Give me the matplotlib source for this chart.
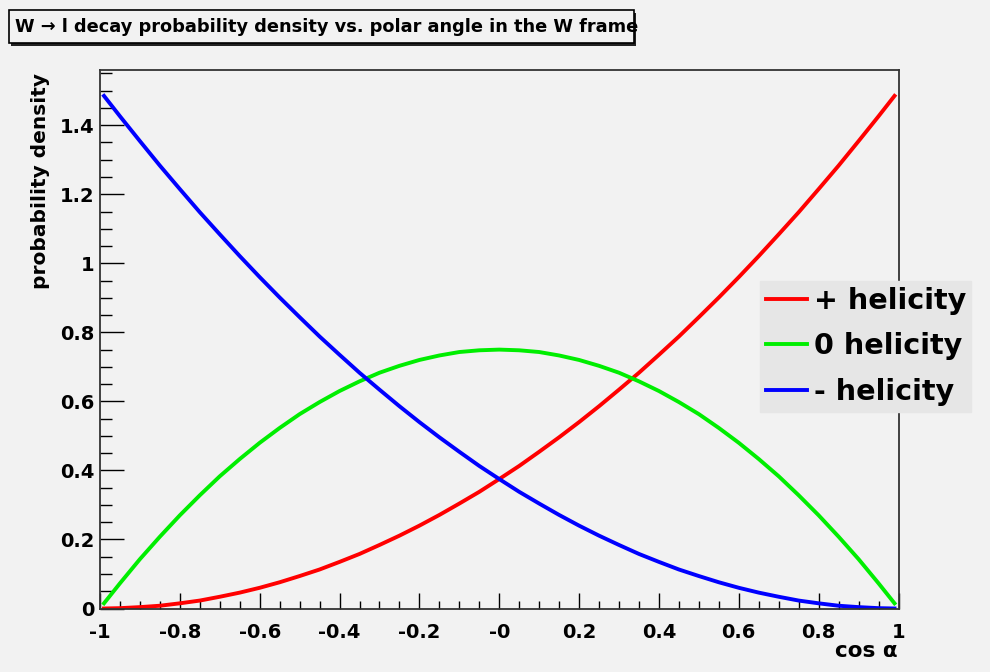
import matplotlib
matplotlib.use('Agg')
import matplotlib.pyplot as plt
from matplotlib.ticker import MultipleLocator
from matplotlib.patches import Rectangle

plt.rcParams['font.family'] = ['DejaVu Sans']
plt.rcParams['font.weight'] = 'bold'

# values
cos_a = [-0.99, -0.95, -0.9, -0.85, -0.8, -0.75, -0.7, -0.65, -0.6, -0.55, -0.5,
         -0.45, -0.4, -0.35, -0.3, -0.25, -0.2, -0.15, -0.1, -0.05, 0.0,
         0.05, 0.1, 0.15, 0.2, 0.25, 0.3, 0.35, 0.4, 0.45, 0.5,
         0.55, 0.6, 0.65, 0.7, 0.75, 0.8, 0.85, 0.9, 0.95, 0.99]
plus_hel = [0.000, 0.001, 0.004, 0.008, 0.015, 0.023, 0.034, 0.046, 0.060, 0.076, 0.094,
            0.113, 0.135, 0.158, 0.184, 0.211, 0.240, 0.271, 0.304, 0.338, 0.375,
            0.413, 0.454, 0.496, 0.540, 0.586, 0.634, 0.683, 0.735, 0.788, 0.844,
            0.901, 0.960, 1.021, 1.084, 1.148, 1.215, 1.283, 1.354, 1.426, 1.485]
zero_hel = [0.015, 0.073, 0.143, 0.208, 0.270, 0.328, 0.383, 0.433, 0.480, 0.523, 0.563,
            0.598, 0.630, 0.658, 0.683, 0.703, 0.720, 0.733, 0.743, 0.748, 0.750,
            0.748, 0.743, 0.733, 0.720, 0.703, 0.683, 0.658, 0.630, 0.598, 0.563,
            0.523, 0.480, 0.433, 0.383, 0.328, 0.270, 0.208, 0.143, 0.073, 0.015]
minus_hel = [1.485, 1.426, 1.354, 1.283, 1.215, 1.148, 1.084, 1.021, 0.960, 0.901, 0.844,
             0.788, 0.735, 0.683, 0.634, 0.586, 0.540, 0.496, 0.454, 0.413, 0.375,
             0.338, 0.304, 0.271, 0.240, 0.211, 0.184, 0.158, 0.135, 0.113, 0.094,
             0.076, 0.060, 0.046, 0.034, 0.023, 0.015, 0.008, 0.004, 0.001, 0.000]
xtick_vals = [-1, -0.8, -0.6, -0.4, -0.2, 0, 0.2, 0.4, 0.6, 0.8, 1]
xtick_labels = ['-1', '-0.8', '-0.6', '-0.4', '-0.2', '-0', '0.2', '0.4', '0.6', '0.8', '1']
ytick_vals = [0, 0.2, 0.4, 0.6, 0.8, 1, 1.2, 1.4]
ytick_labels = ['0', '0.2', '0.4', '0.6', '0.8', '1', '1.2', '1.4']

W, H = 990, 672
bg = '#f2f2f2'
fig = plt.figure(figsize=(9.9, 6.72), dpi=100, facecolor=bg)
ax = fig.add_axes([100 / W, 1 - 608.5 / H, 798.5 / W, 538.5 / H], facecolor=bg)

ax.plot(cos_a, plus_hel, color='#ff0000', lw=2.8, label='+ helicity')
ax.plot(cos_a, zero_hel, color='#00ee00', lw=2.8, label='0 helicity')
ax.plot(cos_a, minus_hel, color='#0000ff', lw=2.8, label='- helicity')

ax.set_xlim(-1, 1)
ax.set_ylim(0, 1.56)
ax.xaxis.set_minor_locator(MultipleLocator(0.05))
ax.yaxis.set_minor_locator(MultipleLocator(0.05))
ax.set_xticks(xtick_vals)
ax.set_xticklabels(xtick_labels)
ax.set_yticks(ytick_vals)
ax.set_yticklabels(ytick_labels)
ax.tick_params(axis='x', which='major', direction='in', length=11.5, width=1, pad=10.5, labelsize=14)
ax.tick_params(axis='x', which='minor', direction='in', length=5.8, width=1)
ax.tick_params(axis='y', which='major', direction='in', length=17, width=1, pad=4, labelsize=14)
ax.tick_params(axis='y', which='minor', direction='in', length=8.6, width=1)
for s in ax.spines.values():
    s.set_color('#333333')
    s.set_linewidth(1.3)

fig.text(898 / W, 1 - 651 / H, 'cos α', ha='right', va='center', fontsize=15.5, fontweight='bold')
fig.text(41 / W, 1 - 73 / H, 'probability density', rotation=90, ha='center', va='top',
         fontsize=14.5, fontweight='bold')

# title box with shadow
fig.patches.append(Rectangle((11 / W, 1 - 46 / H), 625 / W, 33 / H, transform=fig.transFigure,
                             facecolor='#222222', edgecolor='none', zorder=1))
fig.patches.append(Rectangle((9 / W, 1 - 43 / H), 625 / W, 33 / H, transform=fig.transFigure,
                             facecolor=bg, edgecolor='black', linewidth=1.2, zorder=2))
fig.text(15 / W, 1 - 27 / H, 'W → l decay probability density vs. polar angle in the W frame',
         ha='left', va='center', fontsize=12.8, fontweight='bold', zorder=3)

leg = ax.legend(loc='upper left', bbox_to_anchor=(760 / W, 1 - 281 / H),
                bbox_transform=fig.transFigure, frameon=True, fancybox=False,
                facecolor='#e6e6e6', edgecolor='#e6e6e6', framealpha=1,
                prop=dict(size=20.6, weight='bold'), handlelength=1.45, handletextpad=0.22,
                labelspacing=0.62, borderpad=0.2, borderaxespad=0)

plt.savefig('out.png', dpi=100, facecolor=bg)
